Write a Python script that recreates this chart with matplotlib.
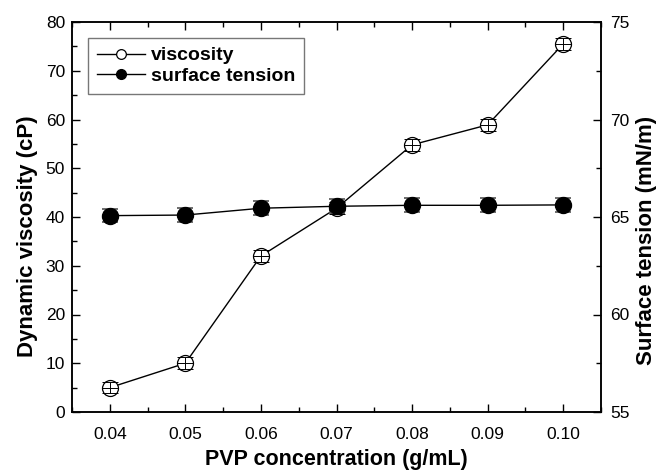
import matplotlib
matplotlib.use("Agg")
import matplotlib.pyplot as plt
from matplotlib.ticker import MultipleLocator

plt.rcParams['font.family'] = ['Liberation Sans', 'DejaVu Sans']

concentration = [0.04, 0.05, 0.06, 0.07, 0.08, 0.09, 0.10]
viscosity = [5.0, 10.0, 32.0, 41.8, 54.8, 58.9, 75.5]
viscosity_err = [1.2, 1.2, 1.2, 1.2, 1.2, 1.2, 1.2]
surface_tension = [65.07, 65.1, 65.45, 65.55, 65.6, 65.6, 65.62]
surface_tension_err = [0.35, 0.35, 0.35, 0.35, 0.35, 0.35, 0.35]

fig = plt.figure(figsize=(6.66, 4.72), dpi=100)
ax = fig.add_axes([72/666, 1-412/472, (601-72)/666, (412-22)/472])
ax2 = ax.twinx()

ms = 11.5
lv, = ax.plot(concentration, viscosity, '-', color='black', lw=1.0,
              marker='o', ms=ms, mfc='white', mec='black', mew=0.9, zorder=3)
ax.errorbar(concentration, viscosity, yerr=viscosity_err, fmt='none',
            ecolor='black', elinewidth=0.7, capsize=5.5, capthick=0.7, zorder=4)
ax.plot(concentration, viscosity, linestyle='none', marker='_', ms=ms,
        mec='black', mew=0.7, zorder=4)

ls, = ax2.plot(concentration, surface_tension, '-', color='black', lw=1.0,
               marker='o', ms=ms, mfc='black', mec='black', zorder=3)
ax2.errorbar(concentration, surface_tension, yerr=surface_tension_err, fmt='none',
             ecolor='#555555', elinewidth=0.8, capsize=5.5, capthick=1.2, zorder=2)

ax.set_xlim(0.035, 0.105)
ax.set_ylim(0, 80)
ax2.set_ylim(55, 75)

ax.xaxis.set_major_locator(MultipleLocator(0.01))
ax.xaxis.set_minor_locator(MultipleLocator(0.005))
ax.yaxis.set_major_locator(MultipleLocator(10))
ax.yaxis.set_minor_locator(MultipleLocator(5))
ax2.yaxis.set_major_locator(MultipleLocator(5))
ax2.yaxis.set_minor_locator(MultipleLocator(2.5))
ax.xaxis.set_major_formatter(plt.FuncFormatter(lambda v, p: f"{v:.2f}"))

tfs = 12.5
ax.tick_params(axis='x', which='both', direction='in', top=True, labelsize=tfs, pad=10.5)
ax.tick_params(axis='y', which='both', direction='in', right=False, labelsize=tfs, pad=5)
ax.tick_params(which='major', length=6, width=1)
ax.tick_params(which='minor', length=3.5, width=1)
ax2.tick_params(axis='y', which='both', direction='in', labelsize=tfs, pad=6.5)
ax2.tick_params(which='major', length=6, width=1)
ax2.tick_params(which='minor', length=3.5, width=1)

for a in (ax, ax2):
    for s in a.spines.values():
        s.set_linewidth(1.1)

ax.set_xlabel('PVP concentration (g/mL)', fontsize=15.5, fontweight='bold')
ax.xaxis.set_label_coords(0.5, (412-449)/390)
ax.set_ylabel('Dynamic viscosity (cP)', fontsize=16, fontweight='bold')
ax.yaxis.set_label_coords((38-72)/529, 0.45)
ax2.set_ylabel('Surface tension (mN/m)', fontsize=16, fontweight='bold')
ax2.yaxis.set_label_coords((636-72)/529, 0.44)

leg = ax.legend([lv, ls], ['viscosity', 'surface tension'], loc='upper left',
                bbox_to_anchor=((88-72)/529, (412-38)/390), frameon=True, fancybox=False,
                handlelength=2.5, handletextpad=0.3, borderpad=0.45,
                borderaxespad=0, labelspacing=0.15, prop={'weight': 'bold', 'size': 14})
leg.get_frame().set_edgecolor('#555555')
leg.get_frame().set_linewidth(1.0)
for h in leg.legend_handles:
    h.set_markersize(7)

fig.savefig('out.png', dpi=100)
